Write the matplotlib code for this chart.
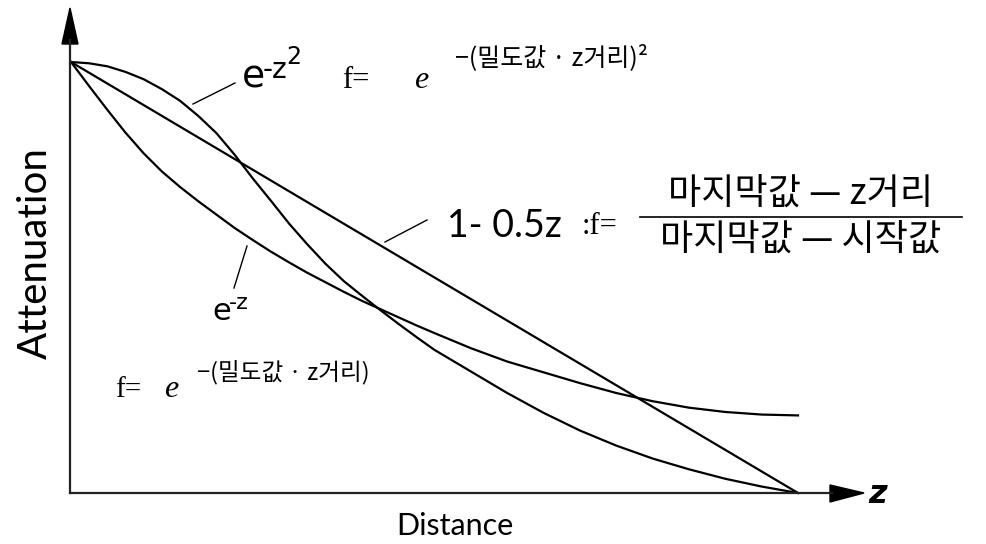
import matplotlib
matplotlib.use("Agg")
import matplotlib.pyplot as plt
from matplotlib.lines import Line2D
from matplotlib.patches import Polygon

# values (z from 0 to 2)
z = [0.0, 0.05, 0.1, 0.15, 0.2, 0.25, 0.3, 0.35, 0.4, 0.45, 0.5,
     0.55, 0.6, 0.65, 0.7, 0.75, 0.8, 0.85, 0.9, 0.95, 1.0,
     1.1, 1.2, 1.3, 1.4, 1.5, 1.6, 1.7, 1.8, 1.9, 2.0]
f_gauss = [1.0, 0.997, 0.99, 0.977, 0.96, 0.937, 0.91, 0.875, 0.835, 0.785, 0.73,
           0.678, 0.625, 0.577, 0.532, 0.492, 0.458, 0.425, 0.393, 0.362, 0.332,
           0.282, 0.232, 0.186, 0.145, 0.11, 0.08, 0.055, 0.033, 0.015, 0.0]
f_exp = [1.0, 0.944, 0.889, 0.836, 0.788, 0.746, 0.71, 0.677, 0.646, 0.615, 0.587,
         0.56, 0.535, 0.511, 0.489, 0.467, 0.446, 0.427, 0.408, 0.389, 0.371,
         0.336, 0.305, 0.28, 0.255, 0.232, 0.213, 0.198, 0.188, 0.182, 0.18]
z_lin = [0.0, 2.0]
f_lin = [1.0, 0.0]

W, H = 986, 544
fig = plt.figure(figsize=(W / 100, H / 100), dpi=100)


def fx(x):
    return x / W


def fy(y):
    return 1 - y / H


# plot area: z=0 at x=71px, z=2 at x=798px, f=0 at y=493px, f=1 at y=62px
ax = fig.add_axes([fx(71), fy(493), 727 / W, 431 / H])
ax.set_xlim(0, 2)
ax.set_ylim(0, 1)
ax.axis("off")
for yy in (f_gauss, f_exp):
    ax.plot(z, yy, color="black", lw=1.6, clip_on=False, solid_joinstyle="round")
ax.plot(z_lin, f_lin, color="black", lw=1.6, clip_on=False)

# axes with arrow heads
axis_kw = dict(color="#222222", lw=1.6, transform=fig.transFigure)
fig.add_artist(Line2D([fx(70), fx(70)], [fy(493), fy(40)], **axis_kw))
fig.add_artist(Line2D([fx(70), fx(832)], [fy(493), fy(493)], **axis_kw))
fig.add_artist(Polygon([[fx(62), fy(44)], [fx(78), fy(44)], [fx(70), fy(8)]],
                       closed=True, color="black", transform=fig.transFigure))
fig.add_artist(Polygon([[fx(830), fy(485)], [fx(830), fy(502)], [fx(864), fy(493)]],
                       closed=True, color="black", transform=fig.transFigure))

# leader lines
lead_kw = dict(color="black", lw=1.0, transform=fig.transFigure)
fig.add_artist(Line2D([fx(193), fx(235)], [fy(104), fy(83)], **lead_kw))
fig.add_artist(Line2D([fx(385), fx(427)], [fy(242), fy(220)], **lead_kw))
fig.add_artist(Line2D([fx(247), fx(234)], [fy(246), fy(288)], **lead_kw))

sans = ["Lato", "DejaVu Sans"]
kr = ["Noto Sans CJK KR", "DejaVu Sans"]
serif = ["Liberation Serif", "DejaVu Serif"]

fig.text(fx(35), fy(253), "Attenuation", rotation=90, ha="center", va="center",
         fontsize=29, family=sans)
fig.text(fx(455), fy(526), "Distance", ha="center", va="center", fontsize=22, family=sans)
fig.text(fx(868), fy(503), "z", ha="left", va="baseline", fontsize=23,
         family=["DejaVu Sans"], style="italic", weight="bold")

# e^{-z^2} label
fig.text(fx(242), fy(88), "e", ha="left", va="baseline", fontsize=27, family=["DejaVu Sans"])
fig.text(fx(263), fy(78), "-z", ha="left", va="baseline", fontsize=20, family=["DejaVu Sans"])
fig.text(fx(286), fy(64), "2", ha="left", va="baseline", fontsize=17, family=["DejaVu Sans"])

# e^{-z} label
fig.text(fx(212), fy(320), "e", ha="left", va="baseline", fontsize=22, family=["DejaVu Sans"])
fig.text(fx(229), fy(309), "-z", ha="left", va="baseline", fontsize=16, family=["DejaVu Sans"])

# top formula
fig.text(fx(342), fy(88), "f=", ha="left", va="baseline", fontsize=22, family=serif)
fig.text(fx(414), fy(88), "e", ha="left", va="baseline", fontsize=23, family=serif, style="italic")
fig.text(fx(455), fy(58), "−(밀도값 · z거리)²", ha="left", va="center", fontsize=18, family=kr)

# bottom formula
fig.text(fx(115), fy(397), "f=", ha="left", va="baseline", fontsize=21, family=serif)
fig.text(fx(164), fy(397), "e", ha="left", va="baseline", fontsize=23, family=serif, style="italic")
fig.text(fx(197), fy(373), "−(밀도값 · z거리)", ha="left", va="center", fontsize=17, family=kr)

# linear formula
fig.text(fx(447), fy(237), "1- 0.5z", ha="left", va="baseline", fontsize=27, family=sans)
fig.text(fx(582), fy(234), ":f=", ha="left", va="baseline", fontsize=22, family=serif)
fig.text(fx(801), fy(194), "마지막값 — z거리", ha="center", va="center", fontsize=26,
         family=kr, weight="light")
fig.add_artist(Line2D([fx(640), fx(962)], [fy(217), fy(217)], color="black", lw=1.2,
                      transform=fig.transFigure))
fig.text(fx(801), fy(240), "마지막값 — 시작값", ha="center", va="center", fontsize=26,
         family=kr, weight="light")

fig.savefig("out.png", dpi=100)
